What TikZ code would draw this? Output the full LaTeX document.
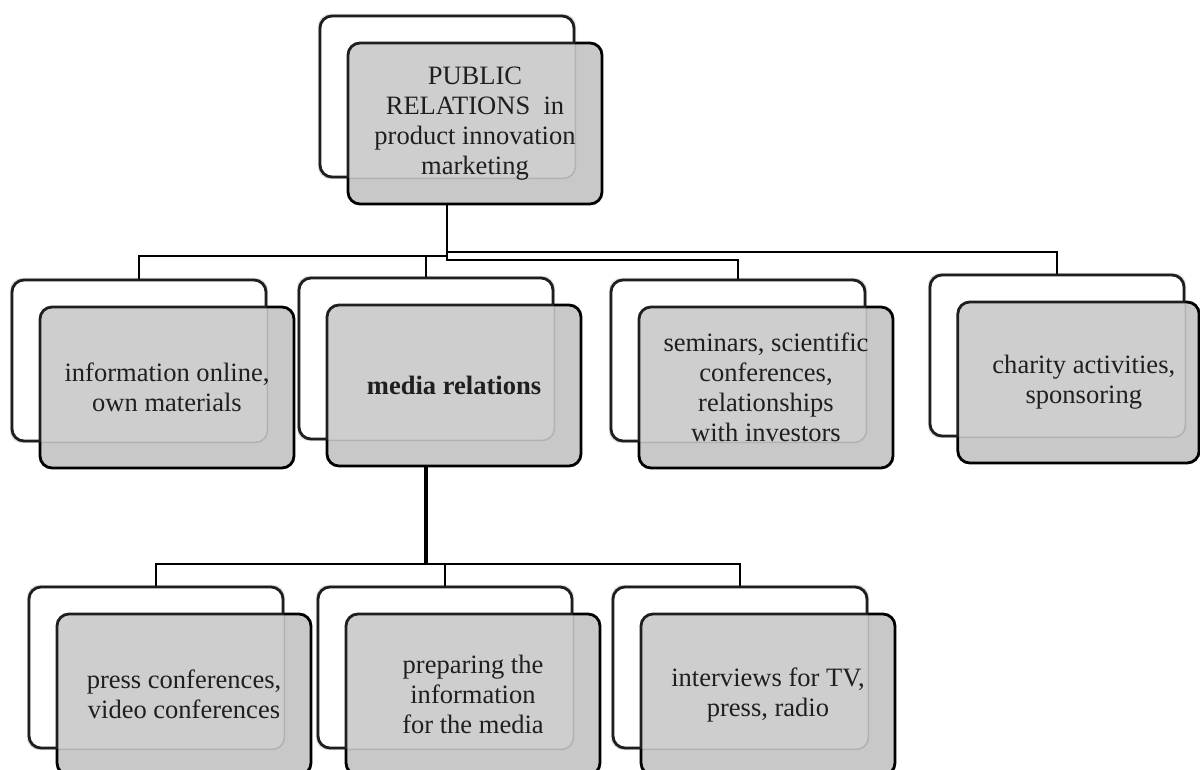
\documentclass[tikz,border=0pt]{standalone}
\usepackage{fontspec}
\setmainfont{Liberation Serif}
\usetikzlibrary{backgrounds}
\definecolor{boxgray}{HTML}{C8C8C8}
\tikzset{
  backbox/.style={draw=black, line width=2.1pt, fill=white, rounded corners=9pt,
    minimum width=190.5pt, minimum height=120.75pt, inner sep=0pt},
  frontbox/.style={draw=black, line width=2.1pt, fill=boxgray, rounded corners=9pt,
    minimum width=190.5pt, minimum height=120.75pt, inner sep=0pt, align=center,
    font=\fontsize{19.9}{22.5}\selectfont},
  ghost/.style={draw=black, draw opacity=0.12, line width=1.2pt, fill=white,
    fill opacity=0.12, rounded corners=9pt},
  conn/.style={draw=black, line width=2pt},
  trunk/.style={draw=black, line width=2.9pt},
}
\newcommand\pairbox[5][]{% [front opts] name, x, y, text
  \node[backbox] (#2-b) at (#3+127,#4+80.5) {};
  \node[frontbox,#1] (#2) at (#3+155,#4+107.5) {#5};
  \draw[ghost] (#2-b.south west) rectangle (#2-b.north east);
}
\begin{document}
\begin{tikzpicture}[x=0.75pt,y=-0.75pt]
\useasboundingbox (0,0) rectangle (1200,770);
\pairbox{top}{320}{16}{PUBLIC\\RELATIONS\ \ in\\product innovation\\marketing}
\pairbox{info}{12}{280}{information online,\\own materials}
\pairbox{media}{299}{278}{\textbf{media relations}}
\pairbox{sem}{611}{280}{seminars, scientific\\conferences,\\relationships\\with investors}
\pairbox[minimum width=181pt, xshift=-4.9pt]{char}{930}{275}{\hspace*{8pt}charity activities,\\\hspace*{8pt}sponsoring}
\pairbox{press}{29}{587}{press conferences,\\video conferences}
\pairbox{prep}{318}{587}{preparing the\\information\\for the media}
\pairbox{inter}{613}{587}{interviews for TV,\\press, radio}
\begin{scope}[on background layer]
  \draw[conn] (top-b.south) -- (top-b.south |- 0,256) -| (info-b.north);
  \draw[conn] (top-b.south |- 0,256) -| (media-b.north);
  \draw[conn] (top-b.south) -- (top-b.south |- 0,260) -| (sem-b.north);
  \draw[conn] (top-b.south |- 0,252) -| (char-b.north);
  \draw[trunk] (media-b.south) -- (media-b.south |- 0,564);
  \draw[conn] (media-b.south |- 0,564) -| (press-b.north);
  \draw[conn] (media-b.south |- 0,564) -| (prep-b.north);
  \draw[conn] (media-b.south |- 0,564) -| (inter-b.north);
\end{scope}
\end{tikzpicture}
\end{document}
